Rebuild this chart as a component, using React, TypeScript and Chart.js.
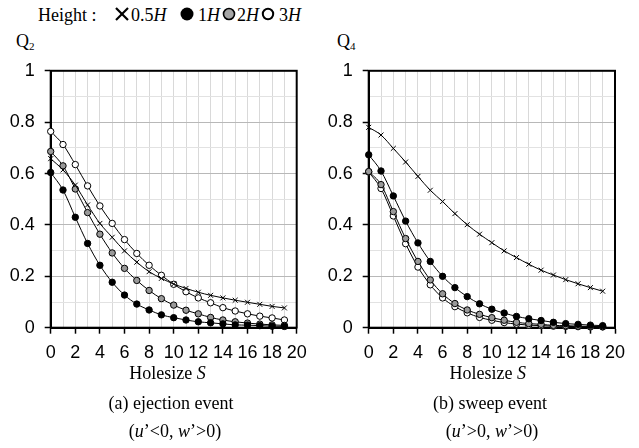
import React, { useEffect, useRef } from "react";
import { Chart, registerables } from "chart.js";

Chart.register(...registerables);

// ---- data ----
const holesize = [0, 1, 2, 3, 4, 5, 6, 7, 8, 9, 10, 11, 12, 13, 14, 15, 16, 17, 18, 19];
const seriesNames = ["0.5H", "1H", "2H", "3H"];

const ejection05 = [0.658, 0.614, 0.555, 0.478, 0.406, 0.352, 0.299, 0.255, 0.218, 0.192, 0.17, 0.153, 0.138, 0.126, 0.116, 0.107, 0.099, 0.091, 0.083, 0.077];
const ejection1 = [0.604, 0.536, 0.43, 0.328, 0.243, 0.177, 0.127, 0.092, 0.069, 0.05, 0.039, 0.03, 0.023, 0.019, 0.015, 0.011, 0.01, 0.008, 0.006, 0.005];
const ejection2 = [0.686, 0.63, 0.54, 0.448, 0.364, 0.291, 0.231, 0.184, 0.145, 0.113, 0.088, 0.068, 0.054, 0.04, 0.03, 0.023, 0.018, 0.014, 0.011, 0.009];
const ejection3 = [0.764, 0.713, 0.635, 0.552, 0.474, 0.406, 0.343, 0.289, 0.243, 0.204, 0.169, 0.14, 0.116, 0.097, 0.078, 0.065, 0.054, 0.045, 0.038, 0.03];

const sweep05 = [0.78, 0.75, 0.698, 0.645, 0.589, 0.535, 0.491, 0.444, 0.401, 0.364, 0.331, 0.299, 0.273, 0.247, 0.224, 0.205, 0.187, 0.171, 0.156, 0.142];
const sweep1 = [0.673, 0.61, 0.513, 0.415, 0.33, 0.258, 0.2, 0.156, 0.121, 0.093, 0.072, 0.057, 0.044, 0.035, 0.028, 0.021, 0.016, 0.013, 0.01, 0.008];
const sweep2 = [0.608, 0.557, 0.452, 0.347, 0.258, 0.186, 0.132, 0.094, 0.069, 0.052, 0.039, 0.029, 0.021, 0.016, 0.013, 0.009, 0.008, 0.006, 0.005, 0.004];
const sweep3 = [0.606, 0.542, 0.435, 0.327, 0.236, 0.167, 0.116, 0.082, 0.058, 0.04, 0.029, 0.02, 0.014, 0.01, 0.008, 0.006, 0.005, 0.004, 0.003, 0.003];

const xTickValues = [0, 2, 4, 6, 8, 10, 12, 14, 16, 18, 20];
const yTickValues = [0, 0.2, 0.4, 0.6, 0.8, 1];

const SERIF = "'Liberation Serif', 'Times New Roman', serif";
const SANS = "'Liberation Sans', Arial, sans-serif";

const styles = [
  { pointStyle: "crossRot", pointRadius: 3.5, bg: "#000" },
  { pointStyle: "circle", pointRadius: 3.2, bg: "#000" },
  { pointStyle: "circle", pointRadius: 3.2, bg: "#999" },
  { pointStyle: "circle", pointRadius: 3.2, bg: "#fff" },
];

const boxPlugin = {
  id: "box",
  beforeDatasetsDraw(chart: any) {
    const { ctx, chartArea } = chart;
    ctx.save();
    ctx.strokeStyle = "#000";
    ctx.lineWidth = 2;
    ctx.strokeRect(chartArea.left, chartArea.top, chartArea.right - chartArea.left, chartArea.bottom - chartArea.top);
    ctx.restore();
  },
};

type PanelProps = {
  left: number;
  values: number[][];
  yAxisWidth: number;
  padRight: number;
};

const CANVAS_TOP = 50;
const CANVAS_W = 320;
const CANVAS_H = 320;
const PAD_TOP = 12.3;
const X_AXIS_H = 42.3;

function Panel({ left, values, yAxisWidth, padRight }: PanelProps) {
  const ref = useRef<HTMLCanvasElement | null>(null);
  useEffect(() => {
    if (!ref.current) return;
    const isMajorX = (v: number) => xTickValues.includes(Math.round(v));
    const isMajorY = (v: number) => yTickValues.some((t) => Math.abs(t - v) < 1e-6);
    const chart = new Chart(ref.current, {
      type: "line",
      data: {
        datasets: values.map((vals, i) => ({
          label: seriesNames[i],
          data: holesize.map((x, j) => ({ x, y: vals[j] })),
          borderColor: "#000",
          borderWidth: 1,
          pointStyle: styles[i].pointStyle as any,
          pointRadius: styles[i].pointRadius,
          pointBorderWidth: 1,
          pointBorderColor: "#000",
          pointBackgroundColor: styles[i].bg,
          backgroundColor: styles[i].bg,
          cubicInterpolationMode: "monotone" as const,
          clip: false as any,
          fill: false,
        })),
      },
      options: {
        responsive: false,
        animation: false,
        devicePixelRatio: 1,
        layout: { padding: { left: 0, top: PAD_TOP, right: padRight, bottom: 0 } },
        plugins: { legend: { display: false }, tooltip: { enabled: false } },
        scales: {
          x: {
            type: "linear",
            min: 0,
            max: 20,
            afterFit: (s: any) => {
              s.height = X_AXIS_H;
            },
            ticks: {
              stepSize: 1,
              autoSkip: false,
              maxRotation: 0,
              minRotation: 0,
              padding: 9,
              color: "#000",
              font: { family: SANS, size: 18 },
              callback: (v: any) => (isMajorX(Number(v)) && Number(v) % 2 === 0 ? String(v) : ""),
            },
            grid: {
              color: "#d9d9d9",
              lineWidth: 1,
              tickLength: 6,
              tickColor: (c: any) => (c.tick && Math.round(c.tick.value) % 2 === 0 ? "#000" : "rgba(0,0,0,0)"),
              tickWidth: 1.5,
            },
            border: { display: true, color: "#000", width: 2 },
          },
          y: {
            type: "linear",
            min: 0,
            max: 1,
            afterFit: (s: any) => {
              s.width = yAxisWidth;
            },
            ticks: {
              stepSize: 0.1,
              autoSkip: false,
              padding: 10,
              color: "#000",
              font: { family: SANS, size: 18 },
              callback: (v: any) => {
                const n = Number(v);
                if (!isMajorY(n)) return "";
                if (Math.abs(n) < 1e-6) return "0";
                if (Math.abs(n - 1) < 1e-6) return "1";
                return n.toFixed(1);
              },
            },
            grid: {
              color: (c: any) => (c.tick && isMajorY(c.tick.value) ? "#b8b8b8" : "#e2e2e2"),
              lineWidth: 1,
              tickLength: 6,
              tickColor: (c: any) => (c.tick && isMajorY(c.tick.value) ? "#000" : "rgba(0,0,0,0)"),
              tickWidth: 1.5,
            },
            border: { display: true, color: "#000", width: 2 },
          },
        },
      } as any,
      plugins: [boxPlugin],
    });
    return () => chart.destroy();
  }, []);
  return (
    <canvas
      ref={ref}
      width={CANVAS_W}
      height={CANVAS_H}
      style={{ position: "absolute", left, top: CANVAS_TOP, width: CANVAS_W, height: CANVAS_H, display: "block" }}
    />
  );
}

const FS = 18;
const BASE = 15.1; // baseline offset for 18px serif with lineHeight 1

function TextAt({ x, baseline, children, center = false, size = FS }: any) {
  const top = baseline - (size / 18) * BASE;
  if (center) {
    return (
      <div
        style={{
          position: "absolute",
          left: x - 120,
          width: 240,
          top,
          textAlign: "center",
          fontSize: size,
          lineHeight: 1,
          fontFamily: SERIF,
          whiteSpace: "nowrap",
        }}
      >
        {children}
      </div>
    );
  }
  return (
    <div style={{ position: "absolute", left: x, top, fontSize: size, lineHeight: 1, fontFamily: SERIF, whiteSpace: "nowrap" }}>
      {children}
    </div>
  );
}

function Marker({ kind, cx, cy }: { kind: number; cx: number; cy: number }) {
  const s = 16;
  return (
    <svg width={s} height={s} style={{ position: "absolute", left: cx - s / 2, top: cy - s / 2 }}>
      {kind === 0 ? (
        <g stroke="#000" strokeWidth={2.2}>
          <line x1={2} y1={2} x2={14} y2={14} />
          <line x1={14} y1={2} x2={2} y2={14} />
        </g>
      ) : kind === 1 ? (
        <circle cx={8} cy={8} r={6.5} fill="#000" />
      ) : kind === 2 ? (
        <circle cx={8} cy={8} r={5.5} fill="#a6a6a6" stroke="#000" strokeWidth={1.6} />
      ) : (
        <circle cx={8} cy={8} r={5.2} fill="#fff" stroke="#000" strokeWidth={2} />
      )}
    </svg>
  );
}

export default function App() {
  return (
    <div
      style={{
        position: "absolute",
        left: 0,
        top: 0,
        width: 639,
        height: 448,
        background: "#fff",
        overflow: "hidden",
        fontFamily: SERIF,
        color: "#000",
      }}
    >
      {/* legend */}
      <TextAt x={38} baseline={21}>Height :</TextAt>
      <Marker kind={0} cx={122} cy={14} />
      <TextAt x={131} baseline={21}>
        0.5<i>H</i>
      </TextAt>
      <Marker kind={1} cx={187} cy={14} />
      <TextAt x={198} baseline={21}>
        1<i>H</i>
      </TextAt>
      <Marker kind={2} cx={229} cy={14} />
      <TextAt x={237} baseline={21}>
        2<i>H</i>
      </TextAt>
      <Marker kind={3} cx={268} cy={14} />
      <TextAt x={279} baseline={21}>
        3<i>H</i>
      </TextAt>

      {/* axis titles */}
      <TextAt x={16} baseline={47}>
        Q<sub style={{ fontSize: 11, verticalAlign: "baseline", position: "relative", top: 3 }}>2</sub>
      </TextAt>
      <TextAt x={337} baseline={47}>
        Q<sub style={{ fontSize: 11, verticalAlign: "baseline", position: "relative", top: 3 }}>4</sub>
      </TextAt>

      <Panel left={0} values={[ejection05, ejection1, ejection2, ejection3]} yAxisWidth={50.7} padRight={23.3} />
      <Panel left={320} values={[sweep05, sweep1, sweep2, sweep3]} yAxisWidth={48.7} padRight={25} />

      {/* captions */}
      <TextAt x={167.5} baseline={379} center>
        Holesize <i>S</i>
      </TextAt>
      <TextAt x={171} baseline={408.7} center>
        (a) ejection event
      </TextAt>
      <TextAt x={175} baseline={437} center>
        (<i>u</i>’&lt;0, <i>w</i>’&gt;0)
      </TextAt>
      <TextAt x={487.7} baseline={379} center>
        Holesize <i>S</i>
      </TextAt>
      <TextAt x={490} baseline={408.7} center>
        (b) sweep event
      </TextAt>
      <TextAt x={492} baseline={437} center>
        (<i>u</i>’&gt;0, <i>w</i>’&gt;0)
      </TextAt>
    </div>
  );
}
